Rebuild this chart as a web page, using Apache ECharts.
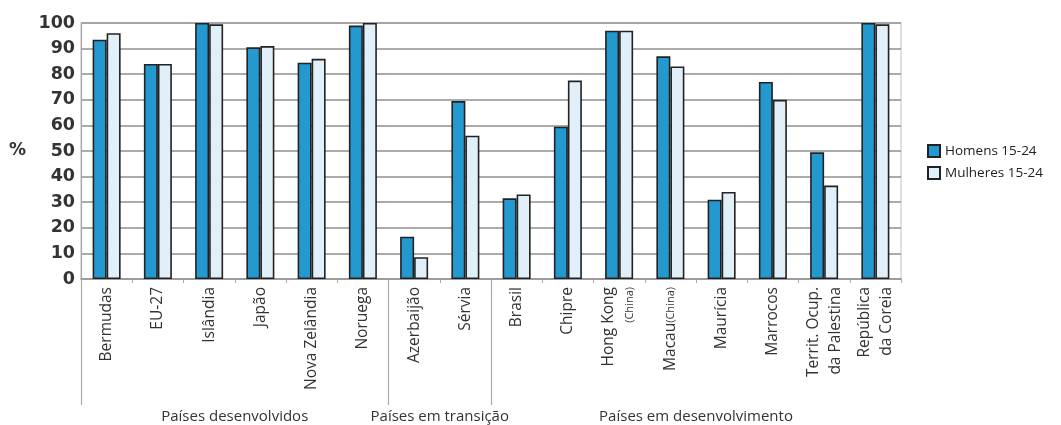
<!DOCTYPE html>
<html>
<head>
<meta charset="utf-8">
<script src="https://cdn.jsdelivr.net/npm/echarts@6/dist/echarts.min.js"></script>
<style>html,body{margin:0;padding:0;background:#fff}#c{width:1061px;height:425px}</style>
</head>
<body>
<div id="c"></div>
<script>
var categories = ['Bermudas','EU-27','Islândia','Japão','Nova Zelândia','Noruega','Azerbaijão','Sérvia','Brasil','Chipre','Hong Kong\n{s|(China)}','Macau{s|(China)}','Maurícia','Marrocos','Territ. Ocup.\nda Palestina','República\nda Coreia'];
var homens = [93.5, 84, 100, 90.5, 84.5, 99, 16.5, 69.5, 31.5, 59.5, 97, 87, 31, 77, 49.5, 100];
var mulheres = [96, 84, 99.5, 91, 86, 100, 8.5, 56, 33, 77.5, 97, 83, 34, 70, 36.5, 99.5];
var groupNames = ['Países desenvolvidos', 'Países em transição', 'Países em desenvolvimento'];
var groupCenters = [3, 7, 12];
var groupBounds = [0, 6, 8];

var chart = echarts.init(document.getElementById('c'));
var labelFont = 'Open Sans';
chart.setOption({
  animation: false,
  grid: {left: 81, right: 160, top: 23, bottom: 146, containLabel: false, show: true, borderColor: '#ccc', borderWidth: 1.2},
  legend: {
    orient: 'vertical', left: 922, top: 139, itemWidth: 12, itemHeight: 12, itemGap: 8, icon: 'rect',
    textStyle: {fontFamily: labelFont, fontSize: 13.5, color: '#222'},
    data: ['Homens 15-24', 'Mulheres 15-24']
  },
  xAxis: [{
    type: 'category', data: categories,
    axisLine: {show: true, lineStyle: {color: '#999', width: 1.5}},
    axisTick: {show: true, length: 4, lineStyle: {color: '#aaa'}},
    axisLabel: {
      rotate: 90, interval: 0, margin: 8, fontFamily: labelFont, fontSize: 15.5, color: '#333', lineHeight: 22,
      rich: {s: {fontFamily: labelFont, fontSize: 11, color: '#333', lineHeight: 22}}
    },
    splitLine: {show: false}
  }, {
    type: 'value', min: 0, max: 16, position: 'bottom', offset: 126,
    axisLine: {show: false},
    splitLine: {show: false},
    axisTick: {show: true, inside: true, length: 126, customValues: groupBounds, lineStyle: {color: '#aaa', width: 1.2}},
    axisLabel: {
      customValues: groupCenters, margin: 4, fontFamily: labelFont, fontSize: 15, color: '#333',
      formatter: function (v) { var i = groupCenters.indexOf(v); return i >= 0 ? groupNames[i] : ''; }
    }
  }],
  yAxis: {
    type: 'value', min: 0, max: 100, interval: 10,
    name: '%', nameLocation: 'middle', nameGap: 55, nameRotate: 0,
    nameTextStyle: {fontFamily: 'DejaVu Sans', fontWeight: 'bold', fontSize: 17, color: '#333'},
    axisLine: {show: true, lineStyle: {color: '#aaa', width: 1.2}},
    axisTick: {show: false},
    axisLabel: {fontFamily: 'DejaVu Sans', fontWeight: 'bold', fontSize: 17.5, color: '#333', margin: 6},
    splitLine: {show: true, lineStyle: {color: '#8f8f8f', width: 1.6}}
  },
  series: [{
    name: 'Homens 15-24', type: 'bar', data: homens, barWidth: 14, barGap: '0%',
    itemStyle: {color: '#2399d0', borderColor: '#222', borderWidth: 1.6}
  }, {
    name: 'Mulheres 15-24', type: 'bar', data: mulheres, barWidth: 14, barGap: '0%',
    itemStyle: {color: '#e0eff8', borderColor: '#222', borderWidth: 1.6}
  }]
});
</script>
</body>
</html>
